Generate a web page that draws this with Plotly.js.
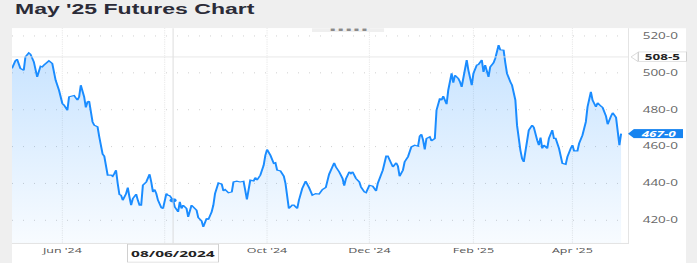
<!DOCTYPE html>
<html>
<head>
<meta charset="utf-8">
<script src="https://cdn.plot.ly/plotly-3.0.1.min.js"></script>
<style>
  html, body { margin: 0; padding: 0; background: #efefef; overflow: hidden; width: 697px; height: 263px; }
  #wrap { width: 697px; height: 438px; transform: scaleY(0.60046); transform-origin: 0 0; }
  #chart { width: 697px; height: 438px; }
</style>
</head>
<body>
<div id="wrap"><div id="chart"></div></div>
<script>
// ---- data (May '25 futures, daily closes) ----
const dates = [
"2024-05-02","2024-05-04","2024-05-05","2024-05-06","2024-05-07","2024-05-09","2024-05-10","2024-05-12","2024-05-13","2024-05-15",
"2024-05-16","2024-05-17","2024-05-19","2024-05-20","2024-05-21","2024-05-23","2024-05-24","2024-05-26","2024-05-27","2024-05-28",
"2024-05-30","2024-05-31","2024-06-01","2024-06-02","2024-06-04","2024-06-05","2024-06-07","2024-06-08","2024-06-10","2024-06-11",
"2024-06-12","2024-06-13","2024-06-14","2024-06-15","2024-06-16","2024-06-17","2024-06-18","2024-06-19","2024-06-20","2024-06-22",
"2024-06-23","2024-06-24","2024-06-25","2024-06-26","2024-06-27","2024-06-28","2024-06-30","2024-07-01","2024-07-02","2024-07-03",
"2024-07-04","2024-07-05","2024-07-06","2024-07-07","2024-07-09","2024-07-10","2024-07-11","2024-07-12","2024-07-13","2024-07-15",
"2024-07-16","2024-07-17","2024-07-18","2024-07-19","2024-07-21","2024-07-22","2024-07-23","2024-07-24","2024-07-25","2024-07-26",
"2024-07-27","2024-07-28","2024-07-30","2024-07-31","2024-08-01","2024-08-02","2024-08-03","2024-08-04","2024-08-06","2024-08-07",
"2024-08-09","2024-08-10","2024-08-11","2024-08-12","2024-08-14","2024-08-15","2024-08-17","2024-08-18","2024-08-20","2024-08-21",
"2024-08-23","2024-08-24","2024-08-26","2024-08-27","2024-08-29","2024-08-30","2024-08-31","2024-09-02","2024-09-04","2024-09-05",
"2024-09-06","2024-09-08","2024-09-10","2024-09-11","2024-09-13","2024-09-15","2024-09-17","2024-09-18","2024-09-19","2024-09-21",
"2024-09-23","2024-09-24","2024-09-25","2024-09-27","2024-09-29","2024-09-30","2024-10-01","2024-10-03","2024-10-05","2024-10-06",
"2024-10-07","2024-10-09","2024-10-11","2024-10-12","2024-10-13","2024-10-14","2024-10-16","2024-10-17","2024-10-19","2024-10-20",
"2024-10-22","2024-10-24","2024-10-26","2024-10-28","2024-10-30","2024-11-01","2024-11-03","2024-11-05","2024-11-07","2024-11-08",
"2024-11-10","2024-11-11","2024-11-13","2024-11-15","2024-11-16","2024-11-17","2024-11-19","2024-11-20","2024-11-21","2024-11-23",
"2024-11-25","2024-11-26","2024-11-28","2024-11-29","2024-12-01","2024-12-03","2024-12-05","2024-12-06","2024-12-08","2024-12-09",
"2024-12-11","2024-12-12","2024-12-14","2024-12-15","2024-12-17","2024-12-18","2024-12-19","2024-12-21","2024-12-22","2024-12-24",
"2024-12-26","2024-12-28","2024-12-30","2024-12-31","2025-01-01","2025-01-02","2025-01-03","2025-01-04","2025-01-06","2025-01-07",
"2025-01-09","2025-01-10","2025-01-12","2025-01-13","2025-01-14","2025-01-16","2025-01-17","2025-01-19","2025-01-20","2025-01-21",
"2025-01-23","2025-01-24","2025-01-25","2025-01-26","2025-01-28","2025-01-29","2025-01-31","2025-02-01","2025-02-03","2025-02-04",
"2025-02-06","2025-02-07","2025-02-08","2025-02-10","2025-02-11","2025-02-13","2025-02-14","2025-02-15","2025-02-16","2025-02-17",
"2025-02-19","2025-02-20","2025-02-21","2025-02-23","2025-02-24","2025-02-26","2025-02-27","2025-03-01","2025-03-02","2025-03-03",
"2025-03-04","2025-03-05","2025-03-06","2025-03-08","2025-03-09","2025-03-11","2025-03-12","2025-03-13","2025-03-14","2025-03-15",
"2025-03-17","2025-03-18","2025-03-20","2025-03-21","2025-03-22","2025-03-24","2025-03-25","2025-03-26","2025-03-28","2025-03-29",
"2025-03-31","2025-04-01","2025-04-02","2025-04-04","2025-04-05","2025-04-07","2025-04-09","2025-04-10","2025-04-12","2025-04-13",
"2025-04-15","2025-04-16","2025-04-18","2025-04-19","2025-04-21","2025-04-22","2025-04-24","2025-04-25","2025-04-27","2025-04-28",
"2025-04-29","2025-04-30"
];
const closes = [
502.4,506.5,507.4,505.1,502.4,501.4,508.7,510.8,510.1,506.0,
501.4,497.8,503.6,503.2,504.2,505.8,506.5,505.1,500.5,496.0,
490.6,486.1,483.4,482.5,479.7,487.0,487.5,487.7,485.2,487.0,
493.3,490.6,487.0,481.2,484.2,484.6,478.0,473.4,471.6,470.7,
465.3,459.8,455.9,454.8,449.0,444.5,444.5,443.9,445.4,447.2,
440.0,434.0,433.6,430.9,434.5,437.8,432.7,428.2,431.8,434.2,
430.9,428.2,428.2,439.0,440.8,442.7,445.0,440.8,435.4,436.7,
434.5,430.9,426.9,426.4,430.0,434.5,433.6,433.4,430.9,427.3,
424.6,430.0,426.4,428.2,426.4,421.9,428.2,427.3,425.5,421.5,
419.7,416.4,421.0,420.4,424.6,428.2,434.5,440.3,439.6,436.0,
436.7,434.9,435.4,440.8,441.2,440.8,441.2,436.3,431.3,441.8,
441.4,443.2,441.8,444.5,449.9,455.3,458.4,455.3,450.9,451.2,
447.2,446.8,443.9,440.0,432.7,426.4,428.2,428.2,426.4,430.9,
437.3,441.2,437.8,433.6,434.5,434.2,436.7,437.8,445.0,447.2,
451.2,449.0,446.3,442.7,438.8,442.5,446.3,445.4,446.3,442.7,
440.8,438.1,435.4,435.0,439.0,438.5,435.9,440.0,444.5,447.2,
454.8,454.8,450.9,449.0,451.2,449.4,443.9,447.2,451.7,454.5,
459.8,460.7,460.2,465.6,466.7,463.5,458.4,464.4,465.3,463.1,
464.4,479.7,486.1,485.2,487.3,483.0,490.6,499.7,494.6,498.7,
496.9,495.1,492.4,497.8,506.9,501.4,493.3,499.7,504.2,504.5,
506.9,500.5,504.2,497.8,503.2,505.4,507.8,511.4,515.0,512.5,
512.3,505.5,499.7,495.1,493.3,485.2,471.5,458.0,453.5,451.7,
458.0,464.4,468.9,471.6,470.4,463.5,460.8,464.9,459.0,460.8,
459.0,464.4,468.9,464.4,464.4,459.0,455.3,450.9,450.4,454.4,
459.0,460.8,457.7,457.7,461.7,466.2,473.4,481.5,489.7,485.2,
481.5,483.7,481.9,481.2,476.5,472.1,476.5,478.3,475.8,468.9,
460.8,467.0
];

// Aug '24 label is hidden behind the crosshair date label in the reference
const xTickVals = ["2024-06-01","2024-08-01","2024-10-01","2024-12-01","2025-02-01","2025-04-01"];
const xTickText = ["Jun '24","","Oct '24","Dec '24","Feb '25","Apr '25"];
const yTickVals = [420,440,460,480,500,520];
const yTickText = ["420-0","440-0","460-0","480-0","500-0","520-0"];

const crosshairDate = "2024-08-06";
const crosshairDateLabel = "08/06/2024";
const crosshairPrice = 508.625;
const chartTitle = "May '25 Futures Chart";

// ---- helpers ----
function fmtEighths(v){ const w = Math.floor(v); const e = Math.round((v - w) * 8); return w + '-' + e; }
const lastPrice = closes[closes.length - 1];
const crossIdx = dates.indexOf(crosshairDate);
const crossVal = closes[crossIdx];

const BLUE = '#1a8cff';
const TAGBLUE = '#1784f0';
const FONT = 'Open Sans, Liberation Sans, sans-serif';

const traceLine = {
  type: 'scatter', mode: 'lines', x: dates, y: closes,
  line: { color: BLUE, width: 2 },
  fill: 'tozeroy',
  fillgradient: { type: 'vertical', start: 407, stop: 516,
    colorscale: [[0, 'rgba(26,140,255,0.03)'], [1, 'rgba(26,140,255,0.25)']] },
  hoverinfo: 'skip', showlegend: false
};
const traceDot = {
  type: 'scatter', mode: 'markers', x: [crosshairDate], y: [crossVal],
  marker: { color: BLUE, size: 7 }, hoverinfo: 'skip', showlegend: false
};

const H = 2.5; // half height of the price tags, in price units
function tip(xTip, xBase, yv, fill, line) {
  return { type: 'path', xref: 'paper', yref: 'y', layer: 'above',
    path: `M ${xBase},${yv + H} L ${xTip},${yv} L ${xBase},${yv - H} Z`,
    fillcolor: fill, line: line };
}

const layout = {
  width: 697, height: 438,
  paper_bgcolor: '#efefef', plot_bgcolor: '#ffffff',
  margin: { l: 12, r: 69, t: 47, b: 33, pad: 0 },
  title: { text: '<b>' + chartTitle + '</b>', x: 15 / 697, xref: 'container', xanchor: 'left',
           y: 1 - 15 / 438, yref: 'container', yanchor: 'middle',
           font: { family: 'Liberation Sans, Arial, sans-serif', size: 23, color: '#2b2b38' } },
  xaxis: {
    type: 'date', range: ['2024-05-02', '2025-05-04 03:00'],
    tickvals: xTickVals, ticktext: xTickText, ticks: '',
    showgrid: true, gridcolor: '#d2d2d2', gridwidth: 1, griddash: '1px,2px',
    showline: true, linecolor: '#dddddd', linewidth: 1, zeroline: false,
    tickfont: { family: FONT, size: 12.5, color: '#555555' }, ticklabelstandoff: 1,
    fixedrange: true
  },
  yaxis: {
    side: 'right', range: [407.6, 524.2],
    tickvals: yTickVals, ticktext: yTickText, ticks: '',
    showgrid: true, gridcolor: '#c4c4c4', gridwidth: 1, griddash: '1px,10px',
    showline: true, linecolor: '#dddddd', linewidth: 1, zeroline: false,
    tickfont: { family: FONT, size: 13.5, color: '#666666' }, ticklabelstandoff: 11,
    fixedrange: true
  },
  shapes: [
    { type: 'rect', xref: 'paper', yref: 'paper', x0: 0, x1: 1.0942, y0: -0.12, y1: 1,
      fillcolor: '#ffffff', line: { width: 0 }, layer: 'below' },
    { type: 'rect', xref: 'paper', yref: 'paper', x0: 0.487, x1: 0.604, y0: 0.9824, y1: 1.0,
      fillcolor: '#efefef', line: { width: 0 }, layer: 'above' },
    { type: 'line', xref: 'x', yref: 'paper', x0: crosshairDate, x1: crosshairDate, y0: 0, y1: 1,
      line: { color: '#d6d6d6', width: 1 }, layer: 'above' },
    { type: 'line', xref: 'paper', yref: 'y', x0: 0, x1: 1, y0: crosshairPrice, y1: crosshairPrice,
      line: { color: '#e2e2e2', width: 1 }, layer: 'above' },
    tip(1.0049, 1.0162, crosshairPrice, '#ffffff', { color: '#d0d0d0', width: 1 }),
    tip(1.0, 1.0097, lastPrice, TAGBLUE, { width: 0 })
  ],
  annotations: [
    { xref: 'paper', yref: 'y', x: 1.0162, xanchor: 'left', y: crosshairPrice, yanchor: 'middle',
      text: '<b>' + fmtEighths(crosshairPrice) + '</b>', showarrow: false,
      width: 47, height: 15, borderpad: 0, align: 'center',
      bgcolor: '#ffffff', bordercolor: '#d0d0d0', borderwidth: 1,
      font: { family: FONT, size: 13.5, color: '#222222' } },
    { xref: 'paper', yref: 'y', x: 1.0097, xanchor: 'left', y: lastPrice, yanchor: 'middle',
      text: '<b><i>' + fmtEighths(lastPrice) + '</i></b>', showarrow: false,
      width: 49, height: 15, borderpad: 0, align: 'center',
      bgcolor: TAGBLUE, borderwidth: 0,
      font: { family: FONT, size: 13.5, color: '#ffffff' } },
    { xref: 'x', yref: 'paper', x: crosshairDate, y: -0.047, yanchor: 'middle', text: '<b>' + crosshairDateLabel + '</b>',
      showarrow: false, bgcolor: '#ffffff', bordercolor: '#d0d0d0', borderwidth: 1, borderpad: 3,
      font: { family: FONT, size: 15.5, color: '#222222' } },
    { xref: 'paper', yref: 'paper', x: 0.5455, y: 0.992, yanchor: 'middle', text: '▪ ▪ ▪ ▪ ▪',
      showarrow: false, font: { family: 'DejaVu Sans, sans-serif', size: 8, color: '#8a8a8a' } }
  ]
};

Plotly.newPlot('chart', [traceLine, traceDot], layout, { staticPlot: true, displayModeBar: false });
</script>
</body>
</html>
